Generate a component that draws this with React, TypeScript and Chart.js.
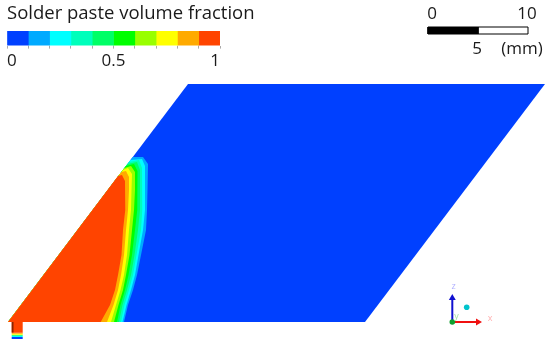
import React, { useEffect, useRef } from "react";
import { Chart, registerables } from "chart.js";

Chart.register(...registerables);

const FONT = '"Open Sans", "Noto Sans", sans-serif';
const TITLE = "Solder paste volume fraction";

const levelColors = ["#0040ff", "#00aaff", "#00ffff", "#00ffbb", "#00ff66", "#00ff00", "#99ff00", "#ffff00", "#ffaa00", "#ff4400"];
const levelStep = [0.1, 0.1, 0.1, 0.1, 0.1, 0.1, 0.1, 0.1, 0.1, 0.1];
const legendTicks = [0, 0.5, 1];

// Geometry in millimetres, origin at the lower left corner of the plate
const plateX = [0, 35.7, 53.7, 18, 0];
const plateY = [0, 0, 23.8, 23.8, 0];
const rowY = [13.2, 11.2, 9.2, 6.7, 4.7, 3.2, 1.7, 0];

const capLightBlueX = [12.47, 13.5, 14.0];
const capLightBlueY = [16.5, 16.5, 15.8];
const rowLightBlue = [13.95, 13.9, 13.8, 13.3, 12.9, 12.5, 12.0, 11.6];
const capCyanX = [12.25, 13.4, 13.7];
const capCyanY = [16.2, 16.3, 15.6];
const rowCyan = [13.7, 13.7, 13.5, 13.05, 12.7, 12.3, 11.85, 11.45];
const capMintX = [12.1, 13.1, 13.4];
const capMintY = [16.0, 16.2, 15.4];
const rowMint = [13.4, 13.45, 13.3, 12.85, 12.5, 12.1, 11.65, 11.3];
const capSpringX = [11.94, 12.9, 13.2];
const capSpringY = [15.8, 16.0, 15.2];
const rowSpring = [13.2, 13.2, 13.0, 12.65, 12.3, 11.9, 11.45, 11.1];
const capGreenX = [11.79, 12.6, 12.95];
const capGreenY = [15.6, 15.8, 15.1];
const rowGreen = [12.95, 12.9, 12.7, 12.4, 12.05, 11.7, 11.25, 10.9];
const capLimeX = [11.64, 12.3, 12.7];
const capLimeY = [15.4, 15.6, 15.0];
const rowLime = [12.7, 12.6, 12.4, 12.15, 11.8, 11.5, 11.05, 10.6];
const capYellowX = [11.49, 12.0, 12.4];
const capYellowY = [15.2, 15.4, 14.8];
const rowYellow = [12.35, 12.3, 12.1, 11.9, 11.6, 11.25, 10.8, 10.3];
const capOrangeX = [11.34, 11.8, 12.1];
const capOrangeY = [15.0, 15.1, 14.5];
const rowOrange = [12.1, 12.0, 11.8, 11.6, 11.3, 11.0, 10.55, 9.9];
const capRedX = [11.0, 11.4, 11.7];
const capRedY = [14.6, 14.7, 14.1];
const rowRed = [11.75, 11.7, 11.5, 11.35, 11.0, 10.7, 10.2, 9.27];

const contours = [
  [capLightBlueX, capLightBlueY, rowLightBlue],
  [capCyanX, capCyanY, rowCyan],
  [capMintX, capMintY, rowMint],
  [capSpringX, capSpringY, rowSpring],
  [capGreenX, capGreenY, rowGreen],
  [capLimeX, capLimeY, rowLime],
  [capYellowX, capYellowY, rowYellow],
  [capOrangeX, capOrangeY, rowOrange],
  [capRedX, capRedY, rowRed],
];

// Inlet tube below the plate
const tubeX = [0.37, 1.47];
const tubeDark = [0.37, 0.55];
const tubeBands = [
  [-1.7, -1.5, "#0040ff"],
  [-1.5, -1.38, "#00ffff"],
  [-1.38, -1.28, "#00ff66"],
  [-1.28, -1.18, "#ffff00"],
  [-1.18, -1.08, "#ffaa00"],
  [-1.08, 0, "#ff4400"],
] as const;

// Orientation triad
const triadOrigin = [44.43, 0];
const triadXTip = [47.0, 0];
const triadZTip = [44.43, 2.4];
const triadDot = [45.87, 1.47];

// Scale bar, 10 mm long, in the same millimetre frame
const scaleBarX = [42, 47, 52];
const scaleBarY = [28.8, 29.5];
const scaleTexts = ["0", "10", "5", "(mm)"];
const scaleTextX = [42.4, 51.9, 46.9, 51.4];
const scaleTextY = [30.8, 30.8, 27.3, 27.3];

const rect = (x0: number, x1: number, y0: number, y1: number) => [
  { x: x0, y: y0 }, { x: x1, y: y0 }, { x: x1, y: y1 }, { x: x0, y: y1 }, { x: x0, y: y0 },
];

const poly = (data: { x: number; y: number }[], color: string) => ({
  type: "scatter" as const,
  data,
  showLine: true,
  tension: 0,
  fill: "shape",
  backgroundColor: color,
  borderColor: color,
  borderWidth: 0,
  pointRadius: 0,
});

const contourPoints = (c: number[][]) => [
  { x: 0, y: 0 },
  ...c[0].map((x, i) => ({ x, y: c[1][i] })),
  ...c[2].map((x, i) => ({ x, y: rowY[i] })),
  { x: 0, y: 0 },
];

const chartTexts = {
  id: "chartTexts",
  afterDraw(chart: any) {
    const { ctx, scales } = chart;
    const put = (t: string, x: number, y: number, c: string, size: number, align = "center") => {
      ctx.save();
      ctx.font = `${size}px ${FONT}`;
      ctx.fillStyle = c;
      ctx.textAlign = align;
      ctx.textBaseline = "middle";
      ctx.fillText(t, scales.x.getPixelForValue(x), scales.y.getPixelForValue(y));
      ctx.restore();
    };
    put(TITLE, -0.1, 30.8, "#1a1a1a", 18.5, "left");
    scaleTexts.forEach((t, i) => put(t, scaleTextX[i], scaleTextY[i], "#1a1a1a", 17));
    put("x", 48.2, 0.35, "#ffb0b0", 9);
    put("y", 44.85, 0.55, "#a8e0a8", 9);
    put("z", 44.55, 3.55, "#b0b0ff", 9);
  },
};

export default function App() {
  const mainRef = useRef<HTMLCanvasElement>(null);
  const legendRef = useRef<HTMLCanvasElement>(null);

  useEffect(() => {
    const shapes = [
      poly(plateX.map((x, i) => ({ x, y: plateY[i] })), levelColors[0]),
      ...contours.map((c, i) => poly(contourPoints(c), levelColors[i + 1])),
      ...tubeBands.map((b) => poly(rect(tubeX[0], tubeX[1], b[0], b[1]), b[2])),
      poly(rect(tubeDark[0], tubeDark[1], -1.05, 0), "#8a2400"),
    ];
    const datasets: any[] = [
      ...shapes,
      { ...poly(rect(scaleBarX[0], scaleBarX[1], scaleBarY[0], scaleBarY[1]), "#000000"), borderWidth: 1 },
      { ...poly(rect(scaleBarX[1], scaleBarX[2], scaleBarY[0], scaleBarY[1]), "#ffffff"), borderColor: "#000000", borderWidth: 1 },
      { ...poly([{ x: triadOrigin[0], y: triadOrigin[1] }, { x: triadXTip[0], y: triadXTip[1] }], "#f01010"), fill: false, borderWidth: 2 },
      { ...poly([{ x: triadOrigin[0], y: triadOrigin[1] }, { x: triadZTip[0], y: triadZTip[1] }], "#1010d0"), fill: false, borderWidth: 2 },
      { type: "scatter", data: [{ x: triadXTip[0], y: triadXTip[1] }], pointStyle: "triangle", rotation: 90, pointRadius: 4, backgroundColor: "#f01010", borderWidth: 0 },
      { type: "scatter", data: [{ x: triadZTip[0], y: triadZTip[1] }], pointStyle: "triangle", rotation: 0, pointRadius: 4, backgroundColor: "#1010d0", borderWidth: 0 },
      { type: "scatter", data: [{ x: triadOrigin[0], y: triadOrigin[1] }], pointRadius: 2.8, backgroundColor: "#10a030", borderWidth: 0 },
      { type: "scatter", data: [{ x: triadDot[0], y: triadDot[1] }], pointRadius: 2.8, backgroundColor: "#00c4cc", borderWidth: 0 },
    ];
    datasets.forEach((d, i) => (d.order = datasets.length - i));

    const main = new Chart(mainRef.current!, {
      type: "scatter",
      data: { datasets },
      plugins: [chartTexts],
      options: {
        responsive: false,
        animation: false,
        layout: { padding: 0, autoPadding: false },
        plugins: { legend: { display: false }, tooltip: { enabled: false }, title: { display: false } },
        scales: {
          x: { type: "linear", display: false, min: -0.8, max: 54.2 },
          y: { type: "linear", display: false, min: -2.2, max: 32.2 },
        },
      },
    } as any);

    const legend = new Chart(legendRef.current!, {
      type: "bar",
      data: {
        labels: ["", " "],
        datasets: levelColors.map((c, i) => ({
          data: [null, levelStep[i]],
          backgroundColor: c,
          borderWidth: 0,
          barPercentage: 1,
          categoryPercentage: 1,
        })),
      },
      options: {
        indexAxis: "y",
        responsive: false,
        animation: false,
        layout: { padding: { left: 7, right: 10, top: 17, bottom: 0 } },
        plugins: {
          legend: { display: false },
          tooltip: { enabled: false },
          title: { display: false },
        },
        scales: {
          y: { stacked: true, display: false },
          x: {
            stacked: true,
            min: 0,
            max: 1,
            border: { display: false },
            grid: { drawOnChartArea: false, drawTicks: true, tickLength: 3, color: "#aaaaaa" },
            ticks: {
              stepSize: 0.1,
              autoSkip: false,
              maxRotation: 0,
              align: "inner",
              padding: 2,
              color: "#1a1a1a",
              font: { family: FONT, size: 17 },
              callback: (v: any) => {
                const hit = legendTicks.find((t) => Math.abs(t - Number(v)) < 1e-6);
                return hit === undefined ? "" : String(hit);
              },
            },
          },
        },
      },
    } as any);

    return () => {
      main.destroy();
      legend.destroy();
    };
  }, []);

  const abs = (left: number, top: number): React.CSSProperties => ({ position: "absolute", left, top, display: "block" });

  return (
    <div style={{ position: "absolute", left: 0, top: 0, width: 550, height: 344, overflow: "hidden", background: "#fff" }}>
      <canvas ref={mainRef} width={550} height={344} style={abs(0, 0)} />
      <canvas ref={legendRef} width={230} height={73} style={abs(0, 0)} />
    </div>
  );
}
